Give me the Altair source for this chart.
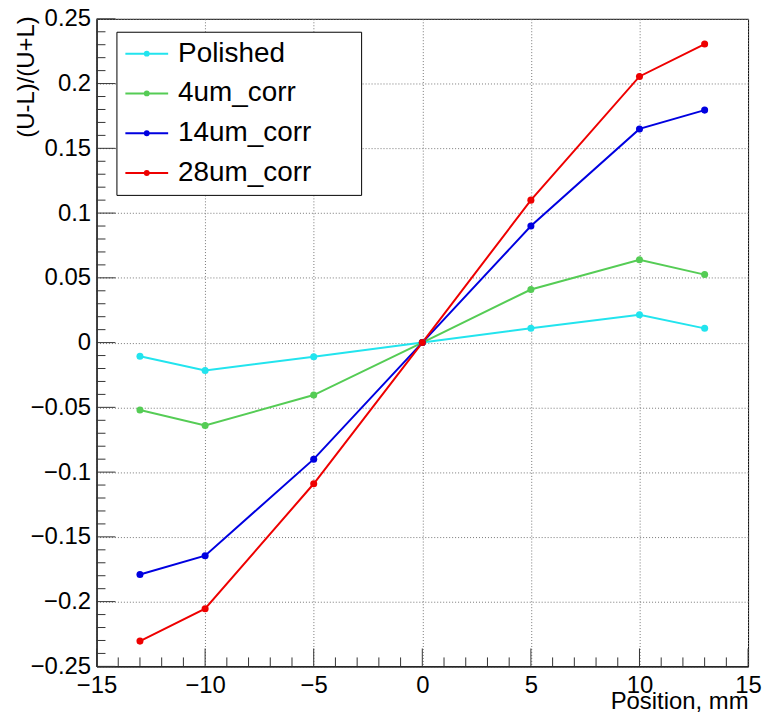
import altair as alt
import pandas as pd

positions = [-13, -10, -5, 0, 5, 10, 13]
series_names = ["Polished", "4um_corr", "14um_corr", "28um_corr"]
polished = [-0.0105, -0.0215, -0.011, 0.0, 0.011, 0.0215, 0.011]
um4 = [-0.052, -0.064, -0.0405, 0.0, 0.041, 0.064, 0.0525]
um14 = [-0.179, -0.1645, -0.090, 0.0, 0.090, 0.165, 0.1795]
um28 = [-0.2305, -0.2055, -0.109, 0.0, 0.110, 0.2055, 0.2305]
colors = ["#22E4EE", "#55CC55", "#0000E0", "#EE0000"]

x_major = [-15, -10, -5, 0, 5, 10, 15]
x_minor = [v for v in range(-15, 16) if v % 5 != 0]
y_major = [round(-0.25 + 0.05 * i, 2) for i in range(11)]
y_minor = [round(-0.25 + 0.01 * i, 2) for i in range(51) if i % 5 != 0]

rows = []
for name, vals in zip(series_names, [polished, um4, um14, um28]):
    for x, y in zip(positions, vals):
        rows.append({"series": name, "x": x, "y": y})
df = pd.DataFrame(rows)

W, H = 655, 651
FONT = "Liberation Sans"

xscale = alt.Scale(domain=[-15, 15], nice=False, zero=False)
yscale = alt.Scale(domain=[-0.25, 0.25], nice=False, zero=False)

legend_path = "M-1,0L1,0M-0.09,0A0.09,0.09 0 1,1 0.09,0A0.09,0.09 0 1,1 -0.09,0"
pad_blank = "\u2800" * 2

color = alt.Color(
    "series:N",
    scale=alt.Scale(domain=series_names, range=colors),
    sort=series_names,
    legend=alt.Legend(
        title=None,
        orient="none",
        legendX=20,
        legendY=13,
        fillColor="white",
        strokeColor="black",
        padding=8,
        symbolType=legend_path,
        symbolSize=1849,
        symbolStrokeWidth=2,
        labelFont=FONT,
        labelFontSize=28,
        labelColor="black",
        labelOffset=9,
        labelLimit=400,
        clipHeight=28,
        rowPadding=12,
        labelExpr="datum.label + '" + pad_blank + "'",
    ),
)

base = alt.Chart(df)

lines = base.mark_line(strokeWidth=2).encode(
    x=alt.X(
        "x:Q",
        scale=xscale,
        axis=alt.Axis(
            values=x_major,
            format="d",
            ticks=False,
            grid=True,
            gridDash=[1, 2],
            gridColor="#777777",
            domainColor="black",
            labelFont=FONT,
            labelFontSize=24,
            labelColor="black",
            labelPadding=7,
            labelFlush=False,
            labelOverlap=False,
            title="Position, mm",
            titleFont=FONT,
            titleFontSize=24,
            titleFontWeight="normal",
            titleColor="black",
            titleAnchor="end",
            titleAlign="right",
            titleX=W,
            titleY=42,
            titleBaseline="alphabetic",
        ),
    ),
    y=alt.Y(
        "y:Q",
        scale=yscale,
        axis=alt.Axis(
            values=y_major,
            format="~f",
            ticks=False,
            grid=True,
            gridDash=[1, 2],
            gridColor="#777777",
            domainColor="black",
            labelFont=FONT,
            labelFontSize=24,
            labelColor="black",
            labelPadding=6,
            labelFlush=False,
            labelOverlap=False,
            title="(U-L)/(U+L)",
            titleFont=FONT,
            titleFontSize=24,
            titleFontWeight="normal",
            titleColor="black",
            titleAngle=270,
            titleAlign="right",
            titleBaseline="middle",
            titleX=-70,
            titleY=-3,
        ),
    ),
    color=color,
    detail="series:N",
)

points = base.mark_point(filled=True, size=50, opacity=1).encode(
    x=alt.X("x:Q", scale=xscale),
    y=alt.Y("y:Q", scale=yscale),
    color=alt.Color("series:N", scale=alt.Scale(domain=series_names, range=colors), legend=None),
)

xmaj_df = pd.DataFrame({"v": x_major})
xmin_df = pd.DataFrame({"v": x_minor})
ymaj_df = pd.DataFrame({"v": y_major})
ymin_df = pd.DataFrame({"v": y_minor})

xmaj_ticks = alt.Chart(xmaj_df).mark_rule(color="#333333", strokeWidth=1).encode(
    x=alt.X("v:Q", scale=xscale), y=alt.value(H), y2=alt.value(H - 18)
)
xmin_ticks = alt.Chart(xmin_df).mark_rule(color="#333333", strokeWidth=1).encode(
    x=alt.X("v:Q", scale=xscale), y=alt.value(H), y2=alt.value(H - 9)
)
ymaj_ticks = alt.Chart(ymaj_df).mark_rule(color="#333333", strokeWidth=1).encode(
    y=alt.Y("v:Q", scale=yscale), x=alt.value(0), x2=alt.value(19)
)
ymin_ticks = alt.Chart(ymin_df).mark_rule(color="#333333", strokeWidth=1).encode(
    y=alt.Y("v:Q", scale=yscale), x=alt.value(0), x2=alt.value(9)
)

chart = (
    alt.layer(lines, points, xmaj_ticks, xmin_ticks, ymaj_ticks, ymin_ticks)
    .properties(
        width=W,
        height=H,
        autosize=alt.AutoSizeParams(type="none"),
        padding={"left": 89, "top": 9, "right": 14, "bottom": 46},
        background="white",
    )
    .configure_view(stroke="black", strokeWidth=1)
)

chart.save("out.html", embed_options={"renderer": "svg", "actions": False})
